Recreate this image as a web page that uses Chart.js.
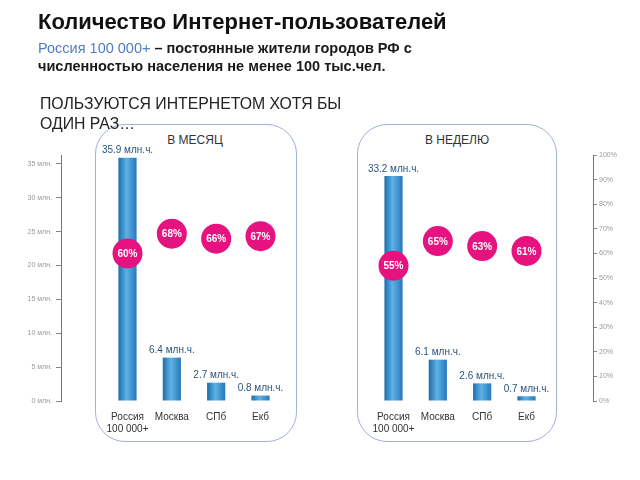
<!DOCTYPE html>
<html lang="ru">
<head>
<meta charset="UTF-8">
<title>Количество Интернет-пользователей</title>
<script src="https://cdn.jsdelivr.net/npm/chart.js"></script>
<style>
    body { margin: 0; background: #fff; font-family: Arial, "Liberation Sans", sans-serif; }
    #wrap { position: relative; width: 640px; height: 480px; overflow: hidden; }
    .panel { position: absolute; border: 1px solid #9fb1d6; border-radius: 30px; box-sizing: border-box; }
    .ptitle { position: absolute; font-size: 12px; color: #333; transform: translateX(-50%); white-space: nowrap; }
    #title { position: absolute; left: 38px; top: 9px; font-size: 22px; font-weight: bold; color: #111; white-space: nowrap; }
    #sub { position: absolute; left: 38px; top: 39px; font-size: 14.5px; line-height: 18px; font-weight: bold; color: #1a1a1a; white-space: nowrap; }
    #sub .blue { color: #4f7fc0; font-weight: normal; }
    #note { position: absolute; left: 40px; top: 94px; font-size: 15.8px; line-height: 20px; color: #222; white-space: nowrap; }
    canvas { position: absolute; left: 0; top: 0; }
</style>
</head>
<body>
<div id="wrap">
    <div class="panel" style="left:95px; top:124px; width:202px; height:318px;"></div>
    <div class="panel" style="left:357px; top:124px; width:200px; height:318px;"></div>
    <div class="ptitle" style="left:195px; top:133px;">В МЕСЯЦ</div>
    <div class="ptitle" style="left:457px; top:133px;">В НЕДЕЛЮ</div>
    <canvas id="usersChart" width="640" height="480"></canvas>
    <div id="title">Количество Интернет-пользователей</div>
    <div id="sub"><span class="blue">Россия 100 000+</span> – постоянные жители городов РФ с<br>численностью населения не менее 100 тыс.чел.</div>
    <div id="note">ПОЛЬЗУЮТСЯ ИНТЕРНЕТОМ ХОТЯ БЫ<br>ОДИН РАЗ…</div>
</div>

<script>
    // данные
    const cities = [['Россия', '100 000+'], 'Москва', 'СПб', 'Екб'];
    const monthUsers = [35.9, 6.4, 2.7, 0.8];   // млн.ч.
    const weekUsers = [33.2, 6.1, 2.6, 0.7];
    const monthShare = [60, 68, 66, 67];        // %
    const weekShare = [55, 65, 63, 61];
    const usersTicks = [0, 5, 10, 15, 20, 25, 30, 35];

    // пустые слоты по краям и между панелями
    const labels = [''].concat(cities, ['', ''], cities, ['']);
    const users = [null].concat(monthUsers, [null, null], weekUsers, [null]);
    const shares = [null].concat(monthShare, [null, null], weekShare, [null]);

    function barGradient(ctx) {
        const chart = ctx.chart;
        if (ctx.type !== 'data' || !chart.chartArea) return '#3a8fcf';
        const cx = chart.scales.x.getPixelForValue(ctx.dataIndex);
        const g = chart.ctx.createLinearGradient(cx - 9, 0, cx + 9, 0);
        g.addColorStop(0, '#1f6cad');
        g.addColorStop(0.45, '#5cb3e6');
        g.addColorStop(1, '#2778bb');
        return g;
    }

    const valueLabels = {
        id: 'valueLabels',
        afterDatasetsDraw(chart) {
            const c = chart.ctx;
            c.save();
            c.textAlign = 'center';

            c.textBaseline = 'bottom';
            c.font = '10px Arial';
            c.fillStyle = '#2b557f';
            chart.getDatasetMeta(1).data.forEach((el, i) => {
                if (users[i] == null) return;
                c.fillText(users[i] + ' млн.ч.', el.x, el.y - 2);
            });

            c.textBaseline = 'middle';
            c.font = 'bold 10px Arial';
            c.fillStyle = '#fff';
            chart.getDatasetMeta(0).data.forEach((el, i) => {
                if (shares[i] == null) return;
                c.fillText(shares[i] + '%', el.x, el.y + 1);
            });
            c.restore();
        }
    };

    new Chart(document.getElementById('usersChart'), {
        data: {
            labels: labels,
            datasets: [{
                type: 'line',
                data: shares,
                yAxisID: 'y1',
                showLine: false,
                pointRadius: 15,
                pointHoverRadius: 15,
                pointBackgroundColor: '#e5127f',
                pointBorderWidth: 0,
                order: 0
            }, {
                type: 'bar',
                data: users,
                yAxisID: 'y',
                backgroundColor: barGradient,
                barPercentage: 0.41,
                categoryPercentage: 1,
                order: 1
            }]
        },
        options: {
            responsive: false,
            animation: false,
            layout: { padding: { top: 155 } },
            plugins: {
                legend: { display: false },
                tooltip: { enabled: false }
            },
            scales: {
                x: {
                    grid: { display: false },
                    border: { display: false },
                    ticks: { font: { size: 10, family: 'Arial' }, color: '#333', padding: 2, autoSkip: false, maxRotation: 0 },
                    afterFit: s => { s.height = 79; }
                },
                y: {
                    position: 'left',
                    min: 0,
                    max: 36.3,
                    ticks: { font: { size: 7, family: 'Arial' }, color: '#999', padding: 4, callback: v => v + ' млн.' },
                    grid: { drawOnChartArea: false, tickLength: 5, color: '#888' },
                    border: { color: '#777' },
                    afterBuildTicks: s => { s.ticks = usersTicks.map(v => ({ value: v })); },
                    afterFit: s => { s.width = 61; }
                },
                y1: {
                    position: 'right',
                    min: 0,
                    max: 100,
                    ticks: { stepSize: 10, font: { size: 7, family: 'Arial' }, color: '#999', padding: 2, callback: v => v + '%' },
                    grid: { drawOnChartArea: false, tickLength: 4, color: '#888' },
                    border: { color: '#777' },
                    afterFit: s => { s.width = 47; }
                }
            }
        },
        plugins: [valueLabels]
    });
</script>
</body>
</html>
